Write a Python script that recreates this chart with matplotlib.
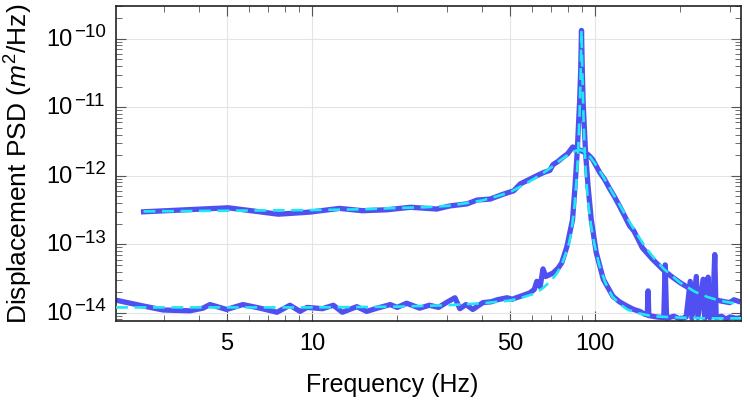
import matplotlib
matplotlib.use("Agg")
import matplotlib.pyplot as plt
import matplotlib.transforms as mtransforms
from matplotlib.ticker import FixedLocator, FixedFormatter, LogLocator, NullFormatter

plt.rcParams['font.family'] = ['Liberation Sans', 'DejaVu Sans']
plt.rcParams['mathtext.fontset'] = 'custom'
plt.rcParams['mathtext.rm'] = 'Liberation Sans'
plt.rcParams['mathtext.it'] = 'Liberation Sans:italic'
plt.rcParams['mathtext.bf'] = 'Liberation Sans:bold'

# ---------------- data ----------------
# broad (low-Q) measured PSD
freq_broad = [2.54, 5.06, 7.6, 9.84, 12.5, 15.1, 18.4, 22.3, 27.6, 30.7, 35.3, 38.3, 42.6,
              47.3, 51.6, 54.4, 58.8, 62.8, 66, 69.3, 71, 74, 77, 80, 83.4, 87, 91.9, 95,
              98, 103.9, 108, 112.7, 117, 122, 127, 132.5, 137, 141, 147, 160, 173, 185,
              200, 215, 229, 245, 262, 280, 299, 310, 320]
psd_broad = [2.98e-13, 3.41e-13, 2.75e-13, 2.95e-13, 3.34e-13, 3.09e-13, 3.19e-13, 3.47e-13,
             3.27e-13, 3.63e-13, 3.89e-13, 4.42e-13, 4.57e-13, 5.37e-13, 6.03e-13, 7.59e-13,
             8.9e-13, 1.02e-12, 1.12e-12, 1.20e-12, 1.45e-12, 1.62e-12, 1.86e-12, 2.09e-12,
             2.63e-12, 2.45e-12, 2.19e-12, 2.0e-12, 1.74e-12, 1.12e-12, 8.9e-13, 6.46e-13,
             5.0e-13, 3.63e-13, 2.63e-13, 1.86e-13, 1.58e-13, 1.26e-13, 8.9e-14, 6.0e-14,
             4.37e-14, 3.47e-14, 2.75e-14, 2.29e-14, 2.0e-14, 1.78e-14, 1.58e-14, 1.48e-14,
             1.41e-14, 1.55e-14, 1.48e-14]

# broad fit
freq_broad_fit = [2.54, 5, 10, 15, 20, 25, 30, 35, 40, 45, 50, 55, 60, 65, 70, 75, 80, 85, 88,
                  91, 95, 100, 105, 110, 115, 120, 130, 140, 150, 160, 175, 200, 225, 250,
                  275, 300, 320]
psd_broad_fit = [3.02e-13, 3.09e-13, 3.16e-13, 3.24e-13, 3.39e-13, 3.47e-13, 3.63e-13, 3.98e-13,
                 4.37e-13, 5.01e-13, 5.75e-13, 7.08e-13, 8.71e-13, 1.07e-12, 1.32e-12, 1.66e-12,
                 2.00e-12, 2.29e-12, 2.40e-12, 2.29e-12, 2.00e-12, 1.51e-12, 1.10e-12, 7.94e-13,
                 5.75e-13, 4.27e-13, 2.40e-13, 1.45e-13, 9.33e-14, 6.61e-14, 4.37e-14, 2.75e-14,
                 2.04e-14, 1.70e-14, 1.51e-14, 1.41e-14, 1.35e-14]

# narrow (high-Q) measured PSD
freq_narrow = [2.03, 2.53, 2.98, 3.7, 4.12, 4.36, 4.99, 5.7, 6.55, 7.52, 8.36, 9.07, 9.6, 10.9,
               11.9, 12.8, 14.4, 15.6, 17, 18.9, 20, 21.6, 24, 26, 28, 30, 32, 33.3, 35, 37,
               40.2, 43, 45.1, 48.9, 51, 54.4, 58.8, 61, 62.3, 64, 65.5, 67, 71, 74, 76.3,
               79.6, 83.3, 85, 86.5, 88.2, 89.0, 89.6, 90.2, 90.8, 92.6, 94.5, 97, 101, 107,
               115.7, 122, 129.5, 137, 144, 150, 153, 154, 155, 165, 175, 177, 179, 190, 200,
               210, 217, 220, 228, 231, 241, 244, 251, 254, 260, 265, 268, 280, 290, 300,
               315, 328]
psd_narrow = [1.53e-14, 1.26e-14, 1.10e-14, 1.07e-14, 1.17e-14, 1.32e-14, 1.12e-14, 1.32e-14,
              1.17e-14, 1.02e-14, 1.29e-14, 1.05e-14, 1.20e-14, 1.15e-14, 1.29e-14, 1.02e-14,
              1.23e-14, 1.05e-14, 1.17e-14, 1.32e-14, 1.20e-14, 1.38e-14, 1.17e-14, 1.29e-14,
              1.20e-14, 1.43e-14, 1.66e-14, 1.15e-14, 1.32e-14, 1.12e-14, 1.41e-14, 1.45e-14,
              1.55e-14, 1.66e-14, 1.58e-14, 1.74e-14, 1.95e-14, 2.19e-14, 2.88e-14, 2.40e-14,
              4.37e-14, 3.39e-14, 3.80e-14, 4.47e-14, 5.37e-14, 9.33e-14, 2.29e-13, 7.08e-13,
              2.19e-12, 1.17e-11, 3.3e-11, 1.32e-10, 3.3e-11, 1.17e-11, 2.19e-12, 7.08e-13,
              2.29e-13, 7.59e-14, 3.09e-14, 1.74e-14, 1.45e-14, 1.26e-14, 1.12e-14, 1.05e-14,
              9.55e-15, 9.33e-15, 2.09e-14, 9.12e-15, 8.71e-15, 8.51e-15, 5.01e-14, 8.32e-15,
              8.91e-15, 8.13e-15, 8.71e-15, 2.88e-14, 8.32e-15, 3.39e-14, 8.51e-15, 3.09e-14,
              8.32e-15, 3.31e-14, 8.51e-15, 8.91e-15, 7.08e-14, 8.51e-15, 8.91e-15, 8.13e-15,
              8.71e-15, 8.32e-15, 8.51e-15]

# narrow fit
freq_narrow_fit = [2.03, 10, 20, 30, 40, 50, 55, 60, 65, 70, 74, 77, 80.5, 82.5, 84.6, 86.1,
                   87.1, 88.2, 89.0, 89.6, 90.2, 91.0, 92.1, 93.1, 94.6, 96.6, 99.5, 103.5,
                   108.5, 115, 122, 130, 140, 160, 200, 250, 328]
psd_narrow_fit = [1.20e-14, 1.20e-14, 1.23e-14, 1.29e-14, 1.38e-14, 1.51e-14, 1.66e-14,
                  1.86e-14, 2.24e-14, 2.95e-14, 3.98e-14, 5.62e-14, 9.33e-14, 1.51e-13,
                  3.55e-13, 8.91e-13, 2.00e-12, 7.94e-12, 3.16e-11, 1.32e-10, 3.16e-11,
                  7.94e-12, 2.00e-12, 8.91e-13, 3.98e-13, 2.00e-13, 1.00e-13, 5.01e-14,
                  2.82e-14, 1.74e-14, 1.35e-14, 1.12e-14, 1.00e-14, 8.91e-15, 8.51e-15,
                  8.32e-15, 8.32e-15]

xtick_major = [5, 10, 50, 100]
xtick_labels = ['5', '10', '50', '100']
xtick_minor = [3, 4, 6, 7, 8, 9, 20, 30, 40, 60, 70, 80, 90, 200, 300]
ytick_exponents = [-14, -13, -12, -11, -10]

# ---------------- figure ----------------
fig = plt.figure(figsize=(7.5, 4.09), dpi=100)
ax = fig.add_axes([116/750, 1 - 321/409, 625/750, 315/409])

blue = '#4f4ff2'
cyan = '#20e8f0'
ax.plot(freq_broad, psd_broad, color=blue, lw=3.8, solid_joinstyle='round', zorder=2)
ax.plot(freq_narrow, psd_narrow, color=blue, lw=3.8, solid_joinstyle='round', zorder=2)
ax.plot(freq_broad_fit, psd_broad_fit, color=cyan, lw=1.9, dashes=(4.5, 2.5), zorder=3)
ax.plot(freq_narrow_fit, psd_narrow_fit, color=cyan, lw=1.9, dashes=(4.5, 2.5), zorder=3)

ax.set_xscale('log')
ax.set_yscale('log')
ax.set_xlim(2.03, 328)
ax.set_ylim(7.6e-15, 3.0e-10)

ax.xaxis.set_major_locator(FixedLocator(xtick_major))
ax.xaxis.set_major_formatter(FixedFormatter(xtick_labels))
ax.xaxis.set_minor_locator(FixedLocator(xtick_minor))
ax.xaxis.set_minor_formatter(NullFormatter())
ax.yaxis.set_major_locator(FixedLocator([10.0 ** e for e in ytick_exponents]))
ax.yaxis.set_major_formatter(NullFormatter())
ax.yaxis.set_minor_locator(LogLocator(base=10, subs=[2, 3, 4, 5, 6, 7, 8, 9], numticks=20))
ax.yaxis.set_minor_formatter(NullFormatter())

ax.tick_params(which='both', direction='in', top=True, right=True, colors='#555555',
               labelcolor='black', labelsize=17)
ax.tick_params(which='major', length=7, width=0.8)
ax.tick_params(which='minor', length=4, width=0.6)
ax.tick_params(axis='x', pad=9)

# y tick labels: "10" with a large superscript exponent
ytrans = ax.get_yaxis_transform()
base_tr = mtransforms.offset_copy(ytrans, fig=fig, x=0, y=-1, units='dots')
exp_tr = mtransforms.offset_copy(ytrans, fig=fig, x=0, y=6, units='dots')
for e in ytick_exponents:
    ax.text((73 - 116) / 625, 10.0 ** e, '10', transform=base_tr, ha='right', va='center',
            fontsize=17, clip_on=False)
    ax.text((74 - 116) / 625, 10.0 ** e, '\u2212' + str(-e), transform=exp_tr, ha='left',
            va='center', fontsize=13.5, clip_on=False)

ax.grid(which='major', color='#e4e4e4', lw=0.8)
ax.set_axisbelow(True)
for s in ax.spines.values():
    s.set_linewidth(1.2)
    s.set_color('#222222')

ax.set_xlabel('Frequency (Hz)', fontsize=18)
ax.xaxis.set_label_coords((392 - 116) / 625, (321 - 385) / 315)
ax.xaxis.label.set_va('center')
ax.set_ylabel('Displacement PSD ($m^2$/Hz)', fontsize=19)
ax.yaxis.set_label_coords((19 - 116) / 625, 0.5)
ax.yaxis.label.set_va('center')

fig.savefig('out.png', dpi=100)
